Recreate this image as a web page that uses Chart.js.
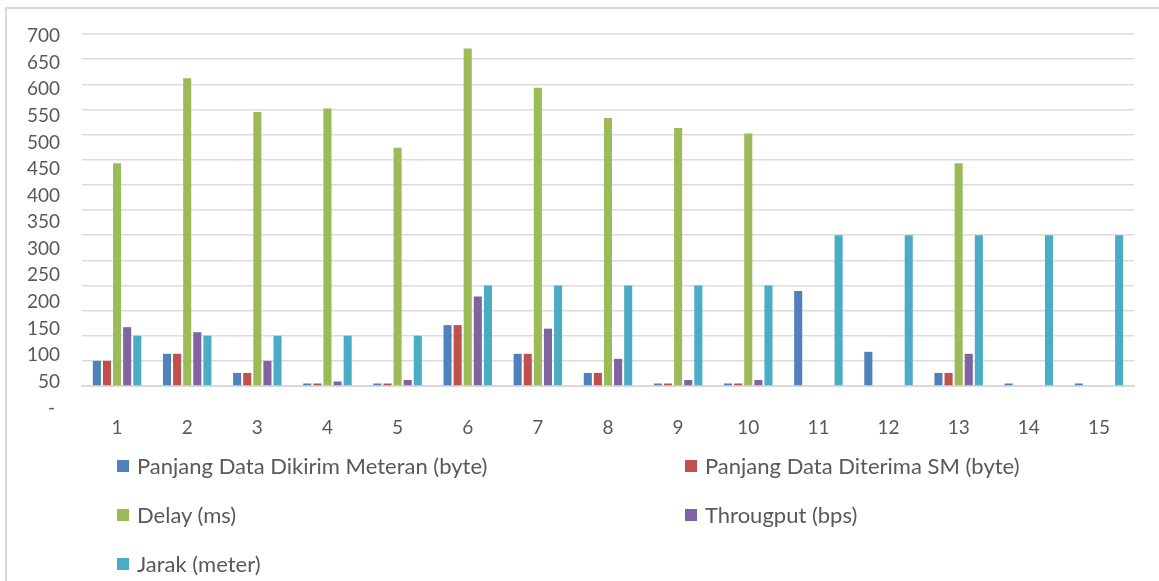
<!DOCTYPE html>
<html lang="id">
<head>
  <meta charset="UTF-8" />
  <title>Panjang Data, Delay, Througput dan Jarak</title>
  <script src="https://cdn.jsdelivr.net/npm/chart.js"></script>
  <style>
    body { margin: 0; background: #fff; font-family: Lato, 'Open Sans', sans-serif; color: #595959; }
    #wrap { position: relative; width: 1159px; height: 581px; overflow: hidden; }
    #frame { position: absolute; left: 5px; top: 7px; right: -10px; bottom: -10px;
             border-left: 2px solid #d9d9d9; border-top: 2px solid #d9d9d9; }
    canvas { position: absolute; left: 0; top: 0; }
    #legend { position: absolute; left: 117px; top: 453px; width: 1000px;
              display: grid; grid-template-columns: 568px 400px; row-gap: 23px; }
    .item { display: flex; align-items: center; font-size: 22px; line-height: 26px; white-space: nowrap; }
    .box { width: 12px; height: 12px; margin-right: 8px; flex: none; }
  </style>
</head>
<body>
  <div id="wrap">
    <div id="frame"></div>
    <canvas id="chart" width="1159" height="581"></canvas>
    <div id="legend"></div>
  </div>

  <script>
  // nilai
  const categories = ['1','2','3','4','5','6','7','8','9','10','11','12','13','14','15'];
  const dataDikirim  = [50, 64, 26, 5, 5, 121, 64, 26, 5, 5, 189, 68, 26, 5, 5];
  const dataDiterima = [50, 64, 26, 5, 5, 121, 64, 26, 5, 5, null, null, 26, null, null];
  const delayMs      = [443, 612, 545, 552, 474, 671, 593, 533, 513, 502, null, null, 443, null, null];
  const throughput   = [117, 107, 50, 9, 12, 178, 114, 54, 12, 12, null, null, 64, null, null];
  const jarak        = [100, 100, 100, 100, 100, 200, 200, 200, 200, 200, 300, 300, 300, 300, 300];
  const yTicks = [0, 50, 100, 150, 200, 250, 300, 350, 400, 450, 500, 550, 600, 650, 700];

  Chart.defaults.font.family = "Lato, 'Open Sans', sans-serif";
  Chart.defaults.color = '#595959';

  const datasets = [
    { label: 'Panjang Data Dikirim Meteran (byte)', data: dataDikirim, backgroundColor: '#4f81bd' },
    { label: 'Panjang Data Diterima SM (byte)', data: dataDiterima, backgroundColor: '#c0504d' },
    { label: 'Delay (ms)', data: delayMs, backgroundColor: '#9bbb59' },
    { label: 'Througput (bps)', data: throughput, backgroundColor: '#8064a2' },
    { label: 'Jarak (meter)', data: jarak, backgroundColor: '#4bacc6' }
  ].map(d => Object.assign(d, { barPercentage: 0.8, categoryPercentage: 0.72 }));

  const chart = new Chart(document.getElementById('chart'), {
    type: 'bar',
    data: { labels: categories, datasets },
    options: {
      responsive: false,
      animation: false,
      layout: { padding: { top: 34, right: 25, bottom: 135, left: 0 } },
      plugins: { legend: { display: false }, tooltip: { enabled: false } },
      scales: {
        x: {
          grid: { display: false },
          border: { color: '#d9d9d9', width: 2 },
          ticks: { font: { size: 19 }, padding: 22, maxRotation: 0 },
          afterFit: s => { s.height = 60; }
        },
        y: {
          min: 0, max: 700, weight: 0,
          ticks: { display: false, stepSize: 50 },
          grid: { color: '#dcdcdc', lineWidth: 1.5, drawTicks: false },
          border: { display: false },
          afterFit: s => { s.width = 0; }
        },
        // label axis: Excel draws the tick text a little off the gridlines
        yl: {
          type: 'linear', position: 'left', weight: 1,
          min: 41.9, max: 703.8,
          grid: { display: false, drawTicks: false },
          border: { display: false },
          afterBuildTicks: s => { s.ticks = yTicks.map(v => ({ value: v })); },
          ticks: {
            autoSkip: false, padding: 22, font: { size: 19 },
            callback: v => v === 0 ? '- ' : String(v)
          },
          afterFit: s => { s.width = 82; }
        }
      }
    }
  });

  const legendEl = document.getElementById('legend');
  chart.data.datasets.forEach(ds => {
    const item = document.createElement('div');
    item.className = 'item';
    const box = document.createElement('span');
    box.className = 'box';
    box.style.background = ds.backgroundColor;
    item.appendChild(box);
    item.appendChild(document.createTextNode(ds.label));
    legendEl.appendChild(item);
  });
  </script>
</body>
</html>
